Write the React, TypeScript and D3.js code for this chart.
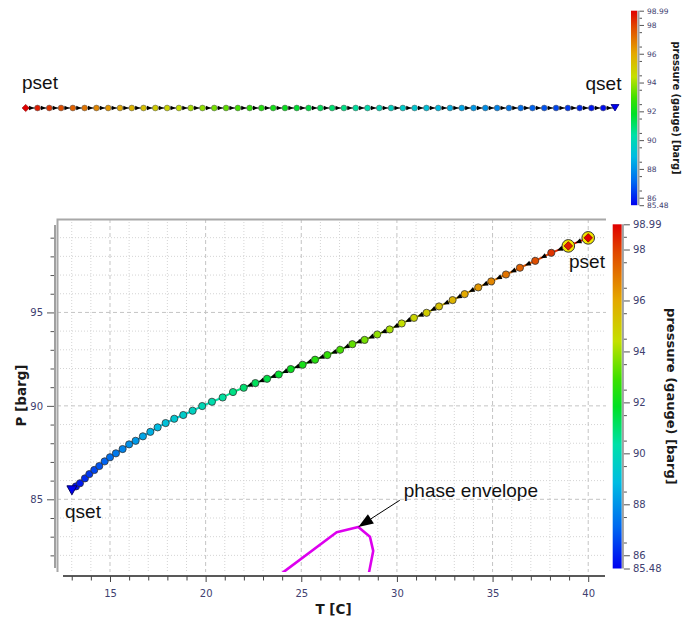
import React, { useRef, useEffect } from "react";
import * as d3 from "d3";

// path points, ordered from qset (outlet) up to pset (inlet)
const temperature = [
  13.01, 13.22, 13.43, 13.69, 13.92, 14.18, 14.44, 14.72, 15.0, 15.31,
  15.66, 16.0, 16.34, 16.72, 17.11, 17.49, 17.91, 18.36, 18.83, 19.32,
  19.82, 20.33, 20.89, 21.43, 21.99, 22.6, 23.21, 23.82, 24.45, 25.07,
  25.72, 26.36, 27.03, 27.67, 28.31, 28.97, 29.62, 30.25, 30.89, 31.55,
  32.2, 32.91, 33.54, 34.25, 34.93, 35.7, 36.43, 37.23, 38.07, 38.96, 40.0,
];
const pressure = [
  85.48, 85.69, 85.86, 86.12, 86.35, 86.57, 86.78, 87.03, 87.25, 87.46,
  87.69, 87.94, 88.13, 88.37, 88.61, 88.85, 89.08, 89.31, 89.51, 89.74,
  89.99, 90.22, 90.45, 90.74, 90.97, 91.22, 91.45, 91.68, 91.97, 92.2,
  92.47, 92.72, 93.0, 93.3, 93.53, 93.82, 94.09, 94.41, 94.71, 94.98,
  95.32, 95.66, 95.98, 96.34, 96.66, 97.03, 97.39, 97.76, 98.19, 98.56, 98.99,
];
// highlighted pset points (indices into the arrays above)
const psetIdx = [49, 50];

const envelopeT = [23.8, 24.1, 26.85, 27.98, 28.59, 28.76, 28.55, 28.5];
const envelopeP = [80.9, 81.13, 83.24, 83.52, 83.0, 82.24, 81.13, 80.9];

const xTicks = [15, 20, 25, 30, 35, 40];
const yTicks = [85, 90, 95];
const cbTicks = [85.48, 86, 88, 90, 92, 94, 96, 98, 98.99];
const pMin = 85.48;
const pMax = 98.99;

const cmapStops = [0, 0.12, 0.25, 0.36, 0.47, 0.55, 0.66, 0.78, 0.92, 1];
const cmapColors = ["#0000f0", "#0068f0", "#00bce2", "#00e0a8", "#00e024", "#3ce000", "#c4e000", "#e4a800", "#e04600", "#e00000"];

const FONT = "DejaVu Sans";
const LABEL_FONT = "Liberation Sans, Arial, sans-serif";
const TICK_COLOR = "#404070";

function arrowPath(ax: number, ay: number, bx: number, by: number, len: number, half: number) {
  const mx = (ax + bx) / 2, my = (ay + by) / 2;
  const L = Math.hypot(bx - ax, by - ay) || 1;
  const dx = (bx - ax) / L, dy = (by - ay) / L;
  const px = -dy, py = dx;
  const tx = mx + dx * len / 2, ty = my + dy * len / 2;
  const bxx = mx - dx * len / 2, byy = my - dy * len / 2;
  return `M${tx},${ty}L${bxx + px * half},${byy + py * half}L${bxx - px * half},${byy - py * half}Z`;
}

function App() {
  const svgRef = useRef<SVGSVGElement>(null);

  useEffect(() => {
    const svg = d3.select(svgRef.current);
    svg.selectAll("*").remove();
    const n = pressure.length;

    const color = d3.scaleLinear<string>()
      .domain(cmapStops.map((s) => pMin + s * (pMax - pMin)))
      .range(cmapColors)
      .clamp(true);

    const defs = svg.append("defs");
    const grad = defs.append("linearGradient").attr("id", "cmap")
      .attr("x1", 0).attr("y1", 1).attr("x2", 0).attr("y2", 0);
    cmapStops.forEach((s, i) => grad.append("stop").attr("offset", s).attr("stop-color", cmapColors[i]));

    const canvas = { left: 57, right: 606, top: 219, bottom: 572 };
    defs.append("clipPath").attr("id", "canvasClip").append("rect")
      .attr("x", canvas.left).attr("y", canvas.top)
      .attr("width", canvas.right - canvas.left).attr("height", canvas.bottom - canvas.top);

    // ---------- top strip ----------
    const sx = d3.scaleLinear().domain([0, n - 1]).range([25.7, 615]);
    const stripY = 108;
    const revP = pressure.slice().reverse();
    const strip = svg.append("g");
    strip.append("line").attr("x1", sx(0)).attr("x2", sx(n - 1))
      .attr("y1", stripY).attr("y2", stripY).attr("stroke", "#000").attr("stroke-width", 1);
    strip.selectAll("path.arr").data(d3.range(n - 1)).enter().append("path")
      .attr("d", (i) => arrowPath(sx(i), stripY, sx(i + 1), stripY, 5, 2.3))
      .attr("fill", "#000");
    strip.selectAll("circle").data(d3.range(1, n - 1)).enter().append("circle")
      .attr("cx", (i) => sx(i)).attr("cy", stripY).attr("r", 2.9)
      .attr("fill", (i) => color(revP[i])).attr("stroke", "#666").attr("stroke-width", 0.6);
    strip.append("path")
      .attr("d", `M${sx(0)},${stripY - 3.6}L${sx(0) + 3.6},${stripY}L${sx(0)},${stripY + 3.6}L${sx(0) - 3.6},${stripY}Z`)
      .attr("fill", color(revP[0])).attr("stroke", "#800").attr("stroke-width", 0.6);
    const qx = sx(n - 1);
    strip.append("path")
      .attr("d", `M${qx - 4},${stripY - 3.5}L${qx + 4},${stripY - 3.5}L${qx},${stripY + 3}Z`)
      .attr("fill", color(revP[n - 1])).attr("stroke", "#000080").attr("stroke-width", 0.8);
    strip.append("text").attr("x", 22).attr("y", 89).text("pset")
      .style("font-family", LABEL_FONT).style("font-size", "19px").attr("fill", "#111");
    strip.append("text").attr("x", 585.5).attr("y", 89.5).text("qset")
      .style("font-family", LABEL_FONT).style("font-size", "19px").attr("fill", "#111");

    // ---------- colorbars ----------
    const drawColorbar = (x0: number, w: number, y0: number, y1: number, major: number, minor: number,
      fs: number, titleX: number, titleFs: number) => {
      const cy = d3.scaleLinear().domain([pMin, pMax]).range([y1, y0]);
      const g = svg.append("g");
      g.append("rect").attr("x", x0).attr("y", y0).attr("width", w).attr("height", y1 - y0)
        .attr("fill", "url(#cmap)");
      const ax = x0 + w + 1.2;
      g.append("line").attr("x1", ax).attr("x2", ax).attr("y1", y0).attr("y2", y1)
        .attr("stroke", "#a0a0a0").attr("stroke-width", 2);
      const minorVals = d3.range(86.5, 98.6, 1);
      const gm = g.append("g").attr("transform", `translate(${ax + 1},0)`)
        .call(d3.axisRight(cy).tickValues(minorVals).tickSize(minor).tickFormat(() => ""));
      gm.select(".domain").remove();
      gm.selectAll("line").attr("stroke", "#555");
      const ga = g.append("g").attr("transform", `translate(${ax + 1},0)`)
        .call(d3.axisRight(cy).tickValues(cbTicks).tickSize(major).tickPadding(3)
          .tickFormat((d) => (Number.isInteger(+d) ? String(d) : (+d).toFixed(2))));
      ga.select(".domain").remove();
      ga.selectAll("line").attr("stroke", "#555");
      ga.selectAll("text").style("font-family", FONT).style("font-size", `${fs}px`).attr("fill", TICK_COLOR);
      g.append("text").attr("transform", `translate(${titleX},${(y0 + y1) / 2}) rotate(90)`)
        .attr("text-anchor", "middle").attr("dy", "0.35em").text("pressure (gauge) [barg]")
        .style("font-family", FONT).style("font-size", `${titleFs}px`).style("font-weight", "bold").attr("fill", "#1a1a1a");
    };
    drawColorbar(631, 6.3, 10.7, 205.2, 4.5, 2.5, 7.5, 676, 9.8);
    drawColorbar(612.7, 9, 224.3, 568.5, 6, 3, 10, 672, 13);

    // ---------- main plot ----------
    const x = d3.scaleLinear().domain([12.23, 40.93]).range([canvas.left, canvas.right]);
    const y = d3.scaleLinear().domain([81.11, 100]).range([canvas.bottom, canvas.top]);

    const grid = svg.append("g");
    const minorX = d3.range(13, 41).filter((v) => v % 5 !== 0);
    const minorY = d3.range(82, 100).filter((v) => v % 5 !== 0);
    grid.selectAll("line.mx").data(minorX).enter().append("line")
      .attr("x1", (d) => x(d)).attr("x2", (d) => x(d)).attr("y1", canvas.top).attr("y2", canvas.bottom)
      .attr("stroke", "#d4d4d4").attr("stroke-dasharray", "1,2");
    grid.selectAll("line.my").data(minorY).enter().append("line")
      .attr("y1", (d) => y(d)).attr("y2", (d) => y(d)).attr("x1", canvas.left).attr("x2", canvas.right)
      .attr("stroke", "#d4d4d4").attr("stroke-dasharray", "1,2");
    grid.selectAll("line.Mx").data(xTicks).enter().append("line")
      .attr("x1", (d) => x(d)).attr("x2", (d) => x(d)).attr("y1", canvas.top).attr("y2", canvas.bottom)
      .attr("stroke", "#c4c4c4").attr("stroke-dasharray", "4,3");
    grid.selectAll("line.My").data(yTicks).enter().append("line")
      .attr("y1", (d) => y(d)).attr("y2", (d) => y(d)).attr("x1", canvas.left).attr("x2", canvas.right)
      .attr("stroke", "#c4c4c4").attr("stroke-dasharray", "4,3");

    // canvas frame (top + left)
    svg.append("path")
      .attr("d", `M${canvas.left + 0.5},${canvas.bottom}V${canvas.top + 0.5}H${canvas.right}`)
      .attr("fill", "none").attr("stroke", "#a8a8a8").attr("stroke-width", 2);

    // x axis
    svg.append("line").attr("x1", 63).attr("x2", 605).attr("y1", 576).attr("y2", 576)
      .attr("stroke", "#222").attr("stroke-width", 1.3);
    const gxm = svg.append("g").attr("transform", "translate(0,576)")
      .call(d3.axisBottom(x).tickValues(minorX).tickSize(4.5).tickFormat(() => ""));
    gxm.select(".domain").remove();
    gxm.selectAll("line").attr("stroke", "#444");
    const gx = svg.append("g").attr("transform", "translate(0,576)")
      .call(d3.axisBottom(x).tickValues(xTicks).tickSize(6).tickPadding(8));
    gx.select(".domain").remove();
    gx.selectAll("line").attr("stroke", "#444");
    gx.selectAll("text").style("font-family", FONT).style("font-size", "10px").attr("fill", TICK_COLOR);
    svg.append("text").attr("x", (canvas.left + canvas.right) / 2 + 2).attr("y", 614)
      .attr("text-anchor", "middle").text("T [C]")
      .style("font-family", FONT).style("font-size", "13.5px").style("font-weight", "bold").attr("fill", "#1a1a1a");

    // y axis
    svg.append("line").attr("x1", 55).attr("x2", 55).attr("y1", 225).attr("y2", 568)
      .attr("stroke", "#a0a0a0").attr("stroke-width", 2);
    const gym = svg.append("g").attr("transform", "translate(54,0)")
      .call(d3.axisLeft(y).tickValues(minorY).tickSize(3.5).tickFormat(() => ""));
    gym.select(".domain").remove();
    gym.selectAll("line").attr("stroke", "#555");
    const gy = svg.append("g").attr("transform", "translate(54,0)")
      .call(d3.axisLeft(y).tickValues(yTicks).tickSize(7).tickPadding(4));
    gy.select(".domain").remove();
    gy.selectAll("line").attr("stroke", "#555");
    gy.selectAll("text").style("font-family", FONT).style("font-size", "10px").attr("fill", TICK_COLOR);
    svg.append("text").attr("transform", `translate(21,${(canvas.top + canvas.bottom) / 2}) rotate(-90)`)
      .attr("text-anchor", "middle").attr("dy", "0.35em").text("P [barg]")
      .style("font-family", FONT).style("font-size", "13.5px").style("font-weight", "bold").attr("fill", "#1a1a1a");

    const plot = svg.append("g").attr("clip-path", "url(#canvasClip)");

    // phase envelope
    const envLine = d3.line<number>().x((i) => x(envelopeT[i])).y((i) => y(envelopeP[i]));
    plot.append("path").attr("d", envLine(d3.range(envelopeT.length)))
      .attr("fill", "none").attr("stroke", "#dd00ee").attr("stroke-width", 2.6).attr("stroke-linejoin", "round");

    // path segments coloured by pressure
    plot.selectAll("line.seg").data(d3.range(n - 1)).enter().append("line")
      .attr("x1", (i) => x(temperature[i])).attr("y1", (i) => y(pressure[i]))
      .attr("x2", (i) => x(temperature[i + 1])).attr("y2", (i) => y(pressure[i + 1]))
      .attr("stroke", (i) => color((pressure[i] + pressure[i + 1]) / 2)).attr("stroke-width", 2);
    // flow arrows (pset -> qset)
    const segs = d3.range(n - 1).filter((i) =>
      Math.hypot(x(temperature[i + 1]) - x(temperature[i]), y(pressure[i + 1]) - y(pressure[i])) > 11.8);
    plot.selectAll("path.arr").data(segs).enter().append("path")
      .attr("d", (i) => arrowPath(x(temperature[i + 1]), y(pressure[i + 1]), x(temperature[i]), y(pressure[i]), 6, 2.6))
      .attr("fill", "#000");

    // markers
    const circleIdx = d3.range(1, n).filter((i) => !psetIdx.includes(i));
    plot.selectAll("circle.pt").data(circleIdx).enter().append("circle")
      .attr("cx", (i) => x(temperature[i])).attr("cy", (i) => y(pressure[i])).attr("r", 3.6)
      .attr("fill", (i) => color(pressure[i])).attr("stroke", "#333").attr("stroke-width", 0.8);
    psetIdx.forEach((i) => {
      const cx = x(temperature[i]), cy = y(pressure[i]);
      plot.append("circle").attr("cx", cx).attr("cy", cy).attr("r", 6.3)
        .attr("fill", "#f2e600").attr("stroke", "#333").attr("stroke-width", 1);
      plot.append("path").attr("d", `M${cx},${cy - 4.3}L${cx + 4.3},${cy}L${cx},${cy + 4.3}L${cx - 4.3},${cy}Z`)
        .attr("fill", color(pressure[i])).attr("stroke", "#700").attr("stroke-width", 0.7);
    });
    const q0x = x(temperature[0]), q0y = y(pressure[0]);
    plot.append("path")
      .attr("d", `M${q0x - 5},${q0y - 4.5}L${q0x + 5},${q0y - 4.5}L${q0x},${q0y + 4.5}Z`)
      .attr("fill", color(pressure[0])).attr("stroke", "#000060").attr("stroke-width", 1);

    // labels
    svg.append("text").attr("x", 569).attr("y", 268).text("pset")
      .style("font-family", LABEL_FONT).style("font-size", "19px").attr("fill", "#111");
    svg.append("text").attr("x", 65).attr("y", 518).text("qset")
      .style("font-family", LABEL_FONT).style("font-size", "19px").attr("fill", "#111");

    // annotation arrow to envelope peak
    const tipX = x(envelopeT[3]), tipY = y(envelopeP[3]);
    const tailX = x(30.15), tailY = y(84.95);
    const ang = Math.atan2(tipY - tailY, tipX - tailX);
    const hl = 15, hw = 5.5;
    const bx = tipX - Math.cos(ang) * hl, by = tipY - Math.sin(ang) * hl;
    svg.append("line").attr("x1", tailX).attr("y1", tailY).attr("x2", bx).attr("y2", by)
      .attr("stroke", "#000").attr("stroke-width", 1);
    svg.append("path")
      .attr("d", `M${tipX},${tipY}L${bx - Math.sin(ang) * hw},${by + Math.cos(ang) * hw}L${bx + Math.sin(ang) * hw},${by - Math.cos(ang) * hw}Z`)
      .attr("fill", "#000");
    svg.append("text").attr("x", tailX + 4).attr("y", tailY - 3).text("phase envelope")
      .style("font-family", LABEL_FONT).style("font-size", "19px").attr("fill", "#111");
  }, []);

  return (
    <svg ref={svgRef} width={697} height={622}
      style={{ position: "absolute", left: 0, top: 0, background: "#fff" }} />
  );
}

export default App;
